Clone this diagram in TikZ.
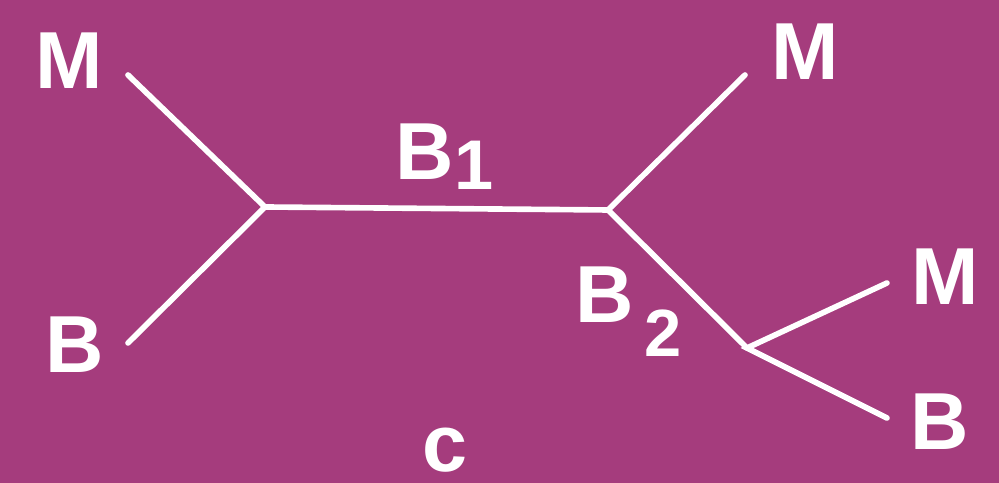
\documentclass[tikz,border=0pt]{standalone}
\usepackage{fontspec}
\setmainfont{Liberation Sans}
\usetikzlibrary{positioning}
\definecolor{plum}{RGB}{165,60,125}

\begin{document}
\begin{tikzpicture}[
        x=0.01cm, y=-0.01cm,
        lbl/.style={text=white, inner sep=0pt, font=\fontsize{23}{25}\selectfont\bfseries},
        bond/.style={draw=white, line width=1.6pt, line cap=round}
    ]

    % Background
    \fill[plum] (0,0) rectangle (999,483);
    \useasboundingbox (0,0) rectangle (999,483);

    % Junctions
    \coordinate (j1) at (265,207);
    \coordinate (j2) at (608,210);
    \coordinate (j3) at (747,348);

    % Free ends of the arms
    \coordinate (e1) at (128,75);
    \coordinate (e2) at (128,343);
    \coordinate (e3) at (745,75);
    \coordinate (e4) at (887,283);
    \coordinate (e5) at (887,418);

    % Labels
    \node[lbl] (m1) at (69,61) {M};
    \node[lbl] (bl) at (75,345) {B};
    \node[lbl] (m2) at (805,52) {M};
    \node[lbl] (m3) at (945,277) {M};
    \node[lbl] (br) at (940,422) {B};
    \node[lbl, anchor=base west] (b1) at (395,180) {B\lower2.8pt\hbox{\fontsize{20}{20}\selectfont 1}};
    \node[lbl, anchor=base west] (b2) at (575,323) {B\kern3pt\lower9.6pt\hbox{\fontsize{19}{19}\selectfont 2}};
    \node[lbl] (cap) at (445,450) {c};

    % Bonds
    \draw[bond] (e1) -- (j1) -- (e2);
    \draw[bond] (j1) -- (j2);
    \draw[bond] (e3) -- (j2) -- (j3);
    \draw[bond] (e4) -- (j3) -- (e5);

\end{tikzpicture}
\end{document}
